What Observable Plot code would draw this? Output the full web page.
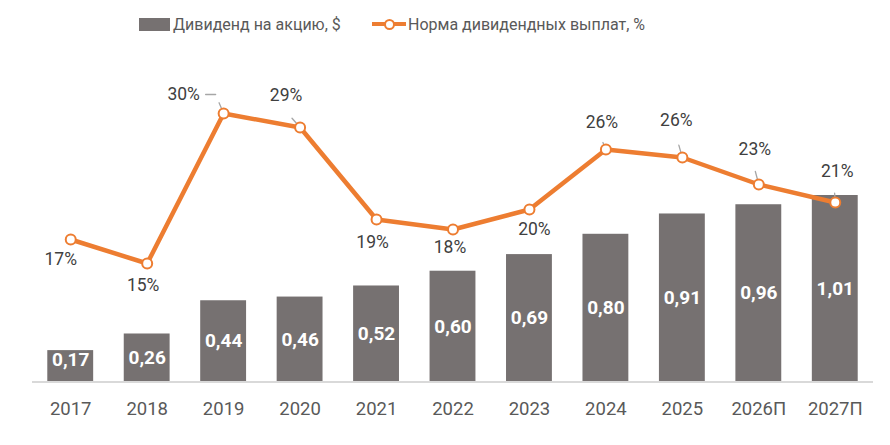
<!DOCTYPE html>
<html>
<head>
<meta charset="utf-8">
<script src="https://cdn.jsdelivr.net/npm/d3@7"></script>
<script src="https://cdn.jsdelivr.net/npm/@observablehq/plot@0.6"></script>
<style>
  html, body { margin: 0; padding: 0; background: #fff; }
  body { width: 890px; height: 445px; overflow: hidden; font-family: Roboto, "Noto Sans", sans-serif; }
  #legend { position: relative; height: 45px; color: #595959; font-size: 16px; }
  .item { position: absolute; top: 13px; display: flex; align-items: center; height: 22px; white-space: nowrap; }
  .sw-bar { width: 31px; height: 13px; background: #767171; margin-right: 3px; }
  .sw-line { position: relative; width: 34px; height: 14px; margin-right: 2px; }
  .sw-line:before { content: ""; position: absolute; left: 0; right: 0; top: 5px; height: 4px; background: #ED7D31; }
  .sw-line:after { content: ""; position: absolute; left: 12px; top: 2px; width: 7px; height: 7px; border: 2px solid #ED7D31; border-radius: 50%; background: #fff; }
  #chart { position: relative; width: 890px; height: 400px; }
  #chart svg { position: absolute; left: 0; top: 0; }
</style>
</head>
<body>
<div id="legend">
  <div class="item" style="left:139px"><div class="sw-bar"></div><span>Дивиденд на акцию, $</span></div>
  <div class="item" style="left:372px"><div class="sw-line"></div><span>Норма дивидендных выплат, %</span></div>
</div>
<div id="chart"></div>
<script>
const years = ["2017","2018","2019","2020","2021","2022","2023","2024","2025","2026П","2027П"];
const dividend = [0.17, 0.26, 0.44, 0.46, 0.52, 0.60, 0.69, 0.80, 0.91, 0.96, 1.01];
const payout = [17.4, 15.0, 30.0, 28.6, 19.4, 18.4, 20.4, 26.4, 25.6, 22.9, 21.1];

// label placement (pixel offsets from each point) and leader lines
const labelOffsets = [[-10,20],[-4,22],[-40,-19],[-14,-32],[-4,23],[-3,18],[5,20],[-4,-27],[-6,-37],[-4,-35],[2,-31]];
const leaders = [null, null, [20,-23], [21,-41], null, null, null, [13,-23], [22,-16], [23,-15], [16,-4]];

const rows = years.map((y, i) => ({year: y, div: dividend[i], pct: payout[i], i}));

const W = 890, H = 400;
const common = {
  width: W, height: H,
  marginLeft: 32, marginRight: 17, marginTop: 0, marginBottom: 63.5,
  style: {fontFamily: "Roboto, 'Noto Sans', sans-serif", background: "transparent", color: "#595959", fontSize: "18.5px"}
};
const xScale = {domain: years, paddingInner: 0.4, paddingOuter: 0.2, round: false};
const fmt = v => v.toFixed(2).replace(".", ",");

const barsPlot = Plot.plot({
  ...common,
  x: {...xScale, label: null, tickSize: 0, tickPadding: 20},
  y: {domain: [0, 1.8224], axis: null},
  marks: [
    Plot.barY(rows, {x: "year", y: "div", fill: "#767171"}),
    Plot.ruleY([0], {stroke: "#D9D9D9", strokeWidth: 2}),
    Plot.text(rows, {x: "year", y: d => Math.max(d.div / 2, 0.12), text: d => fmt(d.div),
      fill: "#fff", fontWeight: "bold", fontSize: 19})
  ]
});

const shapeLine = {draw(context, l) { context.moveTo(0, 0); context.lineTo(0, -l); }};
const leaderRows = rows.filter(d => leaders[d.i]);

const linePlot = Plot.plot({
  ...common,
  x: {...xScale, axis: null},
  y: {domain: [3.15, 36.8], axis: null},
  marks: [
    Plot.vector(leaderRows, {x: "year", y: "pct", length: d => leaders[d.i][0], rotate: d => leaders[d.i][1],
      anchor: "start", shape: shapeLine, stroke: "#A6A6A6", strokeWidth: 1.3}),
    Plot.vector(rows.filter(d => d.i === 2), {x: "year", y: "pct", dx: -8, dy: -19, length: 10, rotate: -90,
      anchor: "start", shape: shapeLine, stroke: "#A6A6A6", strokeWidth: 1.3}),
    Plot.line(rows, {x: "year", y: "pct", stroke: "#ED7D31", strokeWidth: 4.5}),
    Plot.dot(rows, {x: "year", y: "pct", r: 5, fill: "#fff", stroke: "#ED7D31", strokeWidth: 2}),
    ...rows.map((d, i) => Plot.text([d], {x: "year", y: "pct", text: v => Math.round(v.pct) + "%",
      dx: labelOffsets[i][0], dy: labelOffsets[i][1], fill: "#404040", fontSize: 17.5}))
  ]
});

const chart = document.getElementById("chart");
chart.appendChild(barsPlot);
chart.appendChild(linePlot);
</script>
</body>
</html>
